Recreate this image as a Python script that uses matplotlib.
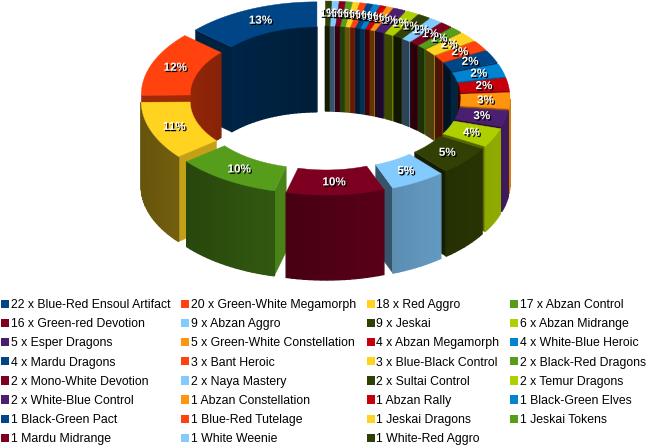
import numpy as np
import matplotlib
matplotlib.use("Agg")
import matplotlib.pyplot as plt
from matplotlib.patches import Patch, Polygon
import matplotlib.patheffects as pe
from matplotlib.colors import to_rgb

plt.rcParams['font.family'] = ['Liberation Sans', 'DejaVu Sans']

# deck names and how many of each
decks = ["Blue-Red Ensoul Artifact", "Green-White Megamorph", "Red Aggro", "Abzan Control",
         "Green-red Devotion", "Abzan Aggro", "Jeskai", "Abzan Midrange",
         "Esper Dragons", "Green-White Constellation", "Abzan Megamorph", "White-Blue Heroic",
         "Mardu Dragons", "Bant Heroic", "Blue-Black Control", "Black-Red Dragons",
         "Mono-White Devotion", "Naya Mastery", "Sultai Control", "Temur Dragons",
         "White-Blue Control", "Abzan Constellation", "Abzan Rally", "Black-Green Elves",
         "Black-Green Pact", "Blue-Red Tutelage", "Jeskai Dragons", "Jeskai Tokens",
         "Mardu Midrange", "White Weenie", "White-Red Aggro"]
counts = [22, 20, 18, 17, 16, 9, 9, 6, 5, 5, 4, 4, 4, 3, 3, 2, 2, 2, 2, 2, 2,
          1, 1, 1, 1, 1, 1, 1, 1, 1, 1]
palette = ["#004586", "#ff420e", "#ffd320", "#579d1c", "#7e0021", "#83caff",
           "#314004", "#aecf00", "#4b1f6f", "#ff950e", "#c5000b", "#0084d1"]

# ring geometry in pixels
cx, cy = 325, 98
rx_out, ry_out = 165, 87
rx_in, ry_in = 116, 62
ex, ey = 20, 10
depth = 85

fig = plt.figure(figsize=(6.49, 4.46), dpi=100)
ax = fig.add_axes([0, 0, 1, 1])
ax.set_xlim(0, 649)
ax.set_ylim(446, 0)
ax.axis("off")

def shade(color, nx, k=1.0):
    f = np.clip((0.62 + 0.22 * nx) * k, 0, 1)
    return tuple(c * f for c in to_rgb(color))

def pt(t, rx, ry, off):
    return off[0] - rx * np.sin(t), off[1] - ry * np.cos(t)

def quad(p, color, z, lw=0.3):
    ax.add_patch(Polygon(p, closed=True, facecolor=color, edgecolor=color, lw=lw, zorder=z))

def wall(ts, rx, ry, off, color, sign, k, z):
    # sign -1: outer wall, only the near side shows; +1: inner wall, only the far side
    for a, b in zip(ts[:-1], ts[1:]):
        m = (a + b) / 2
        if sign * np.cos(m) <= 0:
            continue
        p1 = pt(a, rx, ry, off)
        p2 = pt(b, rx, ry, off)
        quad([p1, p2, (p2[0], p2[1] + depth), (p1[0], p1[1] + depth)],
             shade(color, sign * np.sin(m), k), z, lw=1.0)

def cut(t, off, color, nx, z):
    p1 = pt(t, rx_in, ry_in, off)
    p2 = pt(t, rx_out, ry_out, off)
    quad([p1, p2, (p2[0], p2[1] + depth), (p1[0], p1[1] + depth)], shade(color, nx), z)

total = sum(counts)
edges = np.cumsum([0] + counts) / total * 2 * np.pi
mids = (edges[:-1] + edges[1:]) / 2
order = np.argsort(-np.cos(mids))

for z, i in enumerate(order):
    t0, t1, m = edges[i], edges[i + 1], mids[i]
    col = palette[i % len(palette)]
    off = (cx - ex * np.sin(m), cy - ey * np.cos(m))
    ts = np.linspace(t0, t1, max(int(np.degrees(t1 - t0) / 2), 1) + 1)
    base = 3 * z
    wall(ts, rx_in, ry_in, off, col, 1, 0.68, base)
    if np.sin(t1) > 0:
        cut(t1, off, col, -np.cos(t1), base + 1)
    if np.sin(t0) < 0:
        cut(t0, off, col, np.cos(t0), base + 1)
    wall(ts, rx_out, ry_out, off, col, -1, 1.0, base + 1)
    top = [pt(t, rx_out, ry_out, off) for t in ts] + [pt(t, rx_in, ry_in, off) for t in ts[::-1]]
    quad(top, col, base + 2)

for i, m in enumerate(mids):
    off = (cx - ex * np.sin(m), cy - ey * np.cos(m))
    x, y = pt(m, (rx_out + rx_in) / 2, (ry_out + ry_in) / 2, off)
    ax.text(x, y, f"{counts[i] / total * 100:.0f}%", color="white", fontsize=8.4, fontweight="bold",
            ha="center", va="center", zorder=500,
            path_effects=[pe.withSimplePatchShadow(offset=(1, -1), shadow_rgbFace="black", alpha=1)])

labels = [f"{n} x {d}" if n > 1 else f"{n} {d}" for n, d in zip(counts, decks)]
handles = [Patch(facecolor=palette[i % len(palette)], label=labels[i]) for i in range(len(labels))]
# legend fills by column, the chart reads by row
col_order = [i for c in range(4) for i in range(c, len(labels), 4)]
ax.legend([handles[i] for i in col_order], [labels[i] for i in col_order], ncol=4, frameon=False,
          prop={"size": 8.85}, loc="upper left", bbox_to_anchor=(0, 1 - 298 / 446),
          borderaxespad=0, borderpad=0.1, handlelength=0.65, handleheight=0.65,
          handletextpad=0.12, columnspacing=0.9, labelspacing=0.58)

fig.savefig("out.png", dpi=100)
